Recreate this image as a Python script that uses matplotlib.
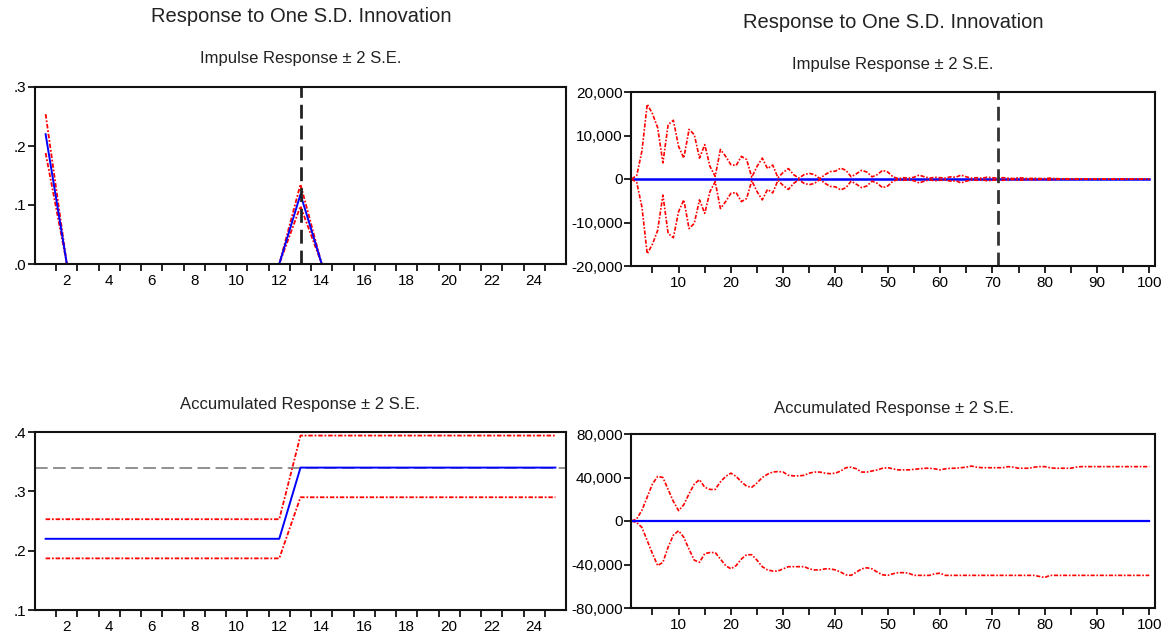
import numpy as np
import matplotlib.pyplot as plt
from matplotlib.ticker import FixedLocator, FuncFormatter

plt.rcParams['font.family'] = ['Liberation Sans', 'DejaVu Sans']

# Panel izquierdo: 25 periodos
per_a = np.arange(1, 26)
irf_a = [0.22] + [0.0] * 11 + [0.118] + [0.0] * 12
irf_a_up = [0.254] + [0.0] * 11 + [0.135] + [0.0] * 12
irf_a_lo = [0.188] + [0.0] * 11 + [0.098] + [0.0] * 12
acc_a = [0.22] * 12 + [0.34] * 13
acc_a_up = [0.253] * 12 + [0.394] * 13
acc_a_lo = [0.187] * 12 + [0.29] * 13
acc_a_lr = 0.34

# Panel derecho: 100 periodos (banda en miles)
per_b = np.arange(1, 101)
irf_b = [0.0] * 100
band_b = [0, 0.8, 6.5, 17.2, 15.0, 11.8, 3.7, 12.5, 13.5, 7.5,
          4.8, 11.4, 10.2, 4.8, 7.9, 2.9, 0.6, 6.8, 5.2, 3.3,
          3.1, 5.2, 4.5, 0.4, 2.9, 4.8, 2.4, 3.2, 0.3, 1.5,
          2.4, 1.0, 0.2, 1.0, 1.3, 1.0, 0.1, 1.0, 1.7, 1.8,
          2.5, 2.0, 0.5, 1.2, 2.0, 1.6, 0.5, 1.0, 2.0, 1.6,
          0.5, 0.1, 0.3, 0.2, 0.4, 0.9, 0.5, 0.2, 0.4, 0.3,
          0.2, 0.5, 0.4, 0.9, 0.5, 0.2, 0.3, 0.2, 0.4, 0.3,
          0.2, 0.3, 0.2, 0.1, 0.3, 0.2, 0.1, 0.2, 0.1, 0.1,
          0.2, 0.1, 0.05, 0.05, 0.05, 0.05, 0.02, 0.02, 0.02, 0.02,
          0.02, 0.02, 0.02, 0.02, 0.02, 0.02, 0.02, 0.02, 0.02, 0.02]
acc_b = [0.0] * 100
acc_b_up = [0, 2, 10, 22, 34, 41, 40, 29, 18, 9.5,
            15, 25, 34, 38, 31, 29, 29, 36, 41, 44,
            41, 36, 32, 31, 35, 40, 43, 45, 45.5, 45,
            42, 41.5, 41.5, 42, 44, 45, 45, 44, 43.5, 44,
            46, 49, 49.5, 48, 45, 45, 46, 47, 48.5, 49,
            48, 47, 47, 47, 47.5, 48, 48.5, 48.5, 48, 47,
            48, 48.5, 48.5, 49, 49.5, 50.5, 49.5, 49, 49, 49,
            49, 49, 50, 49.5, 48.5, 48.5, 48.5, 49.5, 50, 50,
            49, 48.5, 48.5, 48.5, 48.5, 49.5, 50, 50, 50, 50,
            50, 50, 50, 50, 50, 50, 50, 50, 50, 50]
acc_b_lo = [0, -1.5, -6, -18, -30, -41, -38, -24, -13, -9,
            -15, -26, -36, -38, -30, -29, -29, -35, -41, -44,
            -41, -35, -31, -31, -36, -42, -45, -46, -46, -44,
            -42, -42, -42, -42, -44, -45, -45, -44, -44, -45,
            -47, -49.5, -50, -47, -44, -43, -44, -47, -49.5, -50,
            -48.5, -47.5, -47.5, -48, -50, -50, -50, -50, -48.5, -48,
            -50, -50, -50, -50, -50, -50, -50, -50, -50, -50,
            -50, -50, -50, -50, -50, -50, -50, -50, -51, -52,
            -50, -50, -50, -50, -50, -50, -50, -50, -50, -50,
            -50, -50, -50, -50, -50, -50, -50, -50, -50, -50]

RED = '#ff0000'
BLUE = '#0000ff'
band_ls = (0, (2.5, 1, 1, 1))

fig = plt.figure(figsize=(11.68, 6.41), dpi=100)
W, H = 1168, 641


def box(l, r, t, b):
    return [l / W, 1 - b / H, (r - l) / W, (b - t) / H]


ax1 = fig.add_axes(box(35, 566, 87, 264))
ax2 = fig.add_axes(box(631, 1155, 92, 266))
ax3 = fig.add_axes(box(35, 566, 432, 610))
ax4 = fig.add_axes(box(631, 1155, 434, 608))

# Impulso, panel izquierdo
ax1.plot(per_a, irf_a_up, color=RED, lw=1.3, ls=band_ls)
ax1.plot(per_a, irf_a_lo, color=RED, lw=1.3, ls=band_ls)
ax1.plot(per_a, irf_a, color=BLUE, lw=1.4)
ax1.axvline(13, color='#222222', lw=2, ls=(0, (5, 2.5)))
ax1.set_ylim(0, 0.3)
ax1.set_yticks([0, 0.1, 0.2, 0.3])

# Impulso, panel derecho
up_b = np.array(band_b) * 1000
ax2.plot(per_b, up_b, color=RED, lw=1.2, ls=band_ls)
ax2.plot(per_b, -up_b, color=RED, lw=1.2, ls=band_ls)
ax2.plot(per_b, irf_b, color=BLUE, lw=1.8, zorder=1)
ax2.axvline(71, color='#333333', lw=2, ls=(0, (5, 2.5)))
ax2.set_ylim(-20000, 20000)
ax2.set_yticks([-20000, -10000, 0, 10000, 20000])

# Acumulada, panel izquierdo
ax3.axhline(acc_a_lr, color='#888888', lw=1.3, ls=(0, (7, 3)))
ax3.plot(per_a, acc_a_up, color=RED, lw=1.3, ls=band_ls)
ax3.plot(per_a, acc_a_lo, color=RED, lw=1.3, ls=band_ls)
ax3.plot(per_a, acc_a, color=BLUE, lw=1.4)
ax3.set_ylim(0.1, 0.4)
ax3.set_yticks([0.1, 0.2, 0.3, 0.4])

# Acumulada, panel derecho
ax4.plot(per_b, np.array(acc_b_up) * 1000, color=RED, lw=1.2, ls=band_ls)
ax4.plot(per_b, np.array(acc_b_lo) * 1000, color=RED, lw=1.2, ls=band_ls)
ax4.plot(per_b, acc_b, color=BLUE, lw=1.6)
ax4.set_ylim(-80000, 80000)
ax4.set_yticks([-80000, -40000, 0, 40000, 80000])

dec_fmt = FuncFormatter(lambda v, p: f'{v:.1f}'.replace('0.', '.', 1))
com_fmt = FuncFormatter(lambda v, p: f'{v:,.0f}')

for ax in (ax1, ax2, ax3, ax4):
    for s in ax.spines.values():
        s.set_linewidth(1.5)
        s.set_color('#111111')
    ax.tick_params(which='both', direction='out', length=5, width=1.2,
                   labelsize=11, pad=2)
    ax.tick_params(axis='y', pad=1)

for ax in (ax1, ax3):
    ax.set_xlim(0.5, 25.5)
    ax.set_xticks(range(2, 25, 2))
    ax.xaxis.set_minor_locator(FixedLocator(np.arange(1.5, 25.5, 1)))
    ax.tick_params(axis='x', which='major', length=0, pad=7)
    ax.yaxis.set_major_formatter(dec_fmt)
for ax in (ax2, ax4):
    ax.set_xlim(0.9, 101.1)
    ax.set_xticks(range(10, 101, 10))
    ax.xaxis.set_minor_locator(FixedLocator(range(5, 101, 10)))
    ax.yaxis.set_major_formatter(com_fmt)

# Títulos
fig.text(301 / W, 1 - 17 / H, 'Response to One S.D. Innovation',
         ha='center', va='center', fontsize=14.5, color='#222222')
fig.text(893 / W, 1 - 23 / H, 'Response to One S.D. Innovation',
         ha='center', va='center', fontsize=14.5, color='#222222')
fig.text(301 / W, 1 - 58 / H, 'Impulse Response ± 2 S.E.',
         ha='center', va='center', fontsize=12, color='#222222')
fig.text(893 / W, 1 - 64 / H, 'Impulse Response ± 2 S.E.',
         ha='center', va='center', fontsize=12, color='#222222')
fig.text(300 / W, 1 - 405 / H, 'Accumulated Response ± 2 S.E.',
         ha='center', va='center', fontsize=12, color='#222222')
fig.text(894 / W, 1 - 408 / H, 'Accumulated Response ± 2 S.E.',
         ha='center', va='center', fontsize=12, color='#222222')

fig.savefig('out.png', dpi=100)
